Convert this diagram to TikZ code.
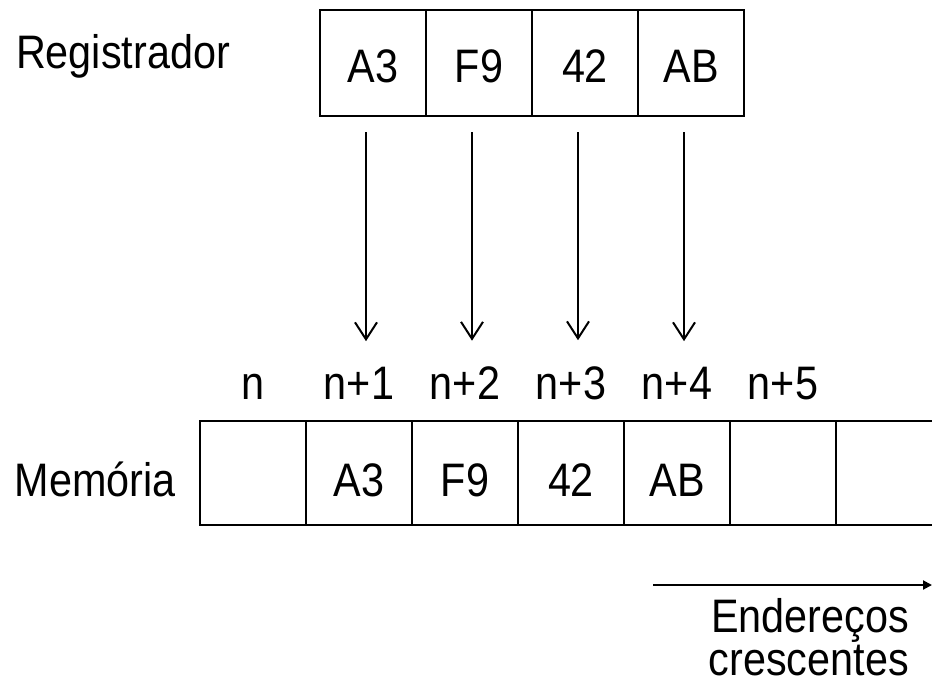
\documentclass[tikz,border=0pt]{standalone}
\usepackage{fontspec}
\setmainfont[FakeStretch=0.88]{Liberation Sans}
\usetikzlibrary{arrows.meta, positioning}

\begin{document}
\begin{tikzpicture}[x=1pt,y=-1pt,line width=2.5pt,node distance=0pt,
  every node/.style={inner sep=0pt,font=\fontsize{47}{56}\selectfont}]
  \tikzstyle{cell}=[draw,minimum width=106pt,minimum height=106pt,outer sep=0pt,
                    text height=39pt]
  \tikzstyle{memcell}=[cell,minimum height=104pt,text height=47pt]
  \tikzstyle{copy}=[-{Straight Barb[length=17pt,width=22pt]},line width=2pt,
                    shorten <=16pt,shorten >=25pt]

  \useasboundingbox (0,0) rectangle (932,683);

  % register
  \node[anchor=base] (reg_label) at (123,68) {Registrador};
  \node[cell]              (reg_1) at (373,63) {A3};
  \node[cell,right=of reg_1] (reg_2)            {F9};
  \node[cell,right=of reg_2] (reg_3)            {42};
  \node[cell,right=of reg_3] (reg_4)            {AB};

  % memory
  \node[anchor=base] (mem_label) at (95,496) {Memória};
  \node[memcell]              (mem_0) at (253,473) {};
  \node[memcell,right=of mem_0] (mem_1)            {A3};
  \node[memcell,right=of mem_1] (mem_2)            {F9};
  \node[memcell,right=of mem_2] (mem_3)            {42};
  \node[memcell,right=of mem_3] (mem_4)            {AB};
  \node[memcell,right=of mem_4] (mem_5)            {};
  \coordinate (right_edge) at (932,0);
  \draw (mem_0.north west) -- (mem_0.north west -| right_edge);
  \draw (mem_0.south west) -- (mem_0.south west -| right_edge);

  % addresses
  \node[above=20pt of mem_0] (addr_0) {n};
  \node[above=20pt of mem_1] (addr_1) {n+1};
  \node[above=20pt of mem_2] (addr_2) {n+2};
  \node[above=20pt of mem_3] (addr_3) {n+3};
  \node[above=20pt of mem_4] (addr_4) {n+4};
  \node[above=20pt of mem_5] (addr_5) {n+5};

  \draw[copy] ([xshift=-7pt]reg_1.south) -- ([xshift=7pt]addr_1.north);
  \draw[copy] ([xshift=-7pt]reg_2.south) -- ([xshift=7pt]addr_2.north);
  \draw[copy] ([xshift=-7pt]reg_3.south) -- ([xshift=7pt]addr_3.north);
  \draw[copy] ([xshift=-7pt]reg_4.south) -- ([xshift=7pt]addr_4.north);

  % growing addresses
  \coordinate (dir_start) at (653,585);
  \coordinate (dir_end)   at (932,585);
  \draw[-{Triangle[length=9pt,width=9pt]},line width=2pt] (dir_start) -- (dir_end);
  \node[anchor=base east] (dir_top)    at (910,632) {Endereços};
  \node[anchor=base east] (dir_bottom) at (910,675) {crescentes};
\end{tikzpicture}
\end{document}
